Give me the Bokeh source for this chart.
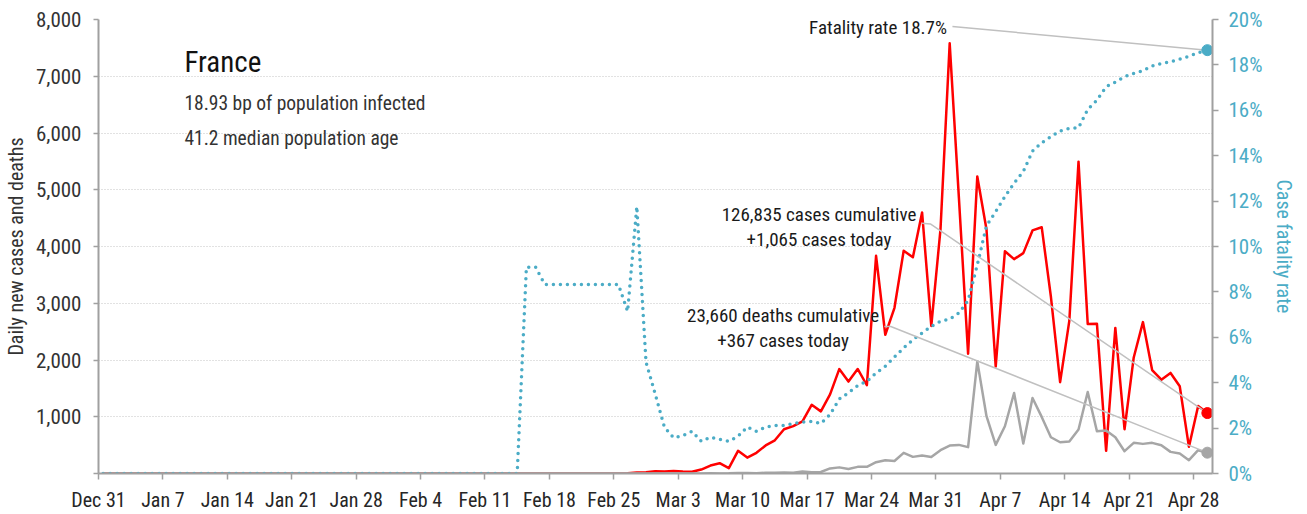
import subprocess
import pandas as pd
from bokeh.plotting import figure
from bokeh.models import Range1d, LinearAxis, FixedTicker, Label, NumeralTickFormatter, ColumnDataSource
from bokeh.embed import file_html
from bokeh.resources import INLINE

# ---------------- data ----------------
start_date = "2019-12-31"
end_date = "2020-04-29"

# daily new cases, Dec 31 .. Apr 29
cases = [0] * 56 + [
    2, 4, 18, 20, 40, 35, 45, 35, 30, 70,
    140, 182, 94, 400, 280, 365, 495, 585, 780, 835,
    920, 1210, 1095, 1395, 1840, 1620, 1842, 1555, 3835, 2445,
    2920, 3925, 3810, 4600, 2600, 4300, 7580, 4860, 2110, 5235,
    4300, 1885, 3915, 3777, 3883, 4283, 4340, 3114, 1610, 2690,
    5495, 2636, 2640, 400, 2566, 780, 2045, 2668, 1822, 1653,
    1772, 1537, 470, 1190, 1065]

# daily new deaths
deaths = [0] * 46 + [1] + [0] * 11 + [1] + [0] * 3 + [
    1, 1, 1, 2, 3, 2, 3, 9, 11, 3,
    15, 13, 18, 12, 36, 21, 27, 89, 108, 78,
    117, 117, 199, 235, 220, 364, 293, 317, 290, 411,
    493, 504, 465, 1976, 1009, 504, 833, 1419, 528, 1331,
    997, 639, 551, 563, 774, 1437, 745, 756, 639, 393,
    540, 522, 540, 498, 381, 352, 235, 411, 367]

# case fatality rate, percent
cfr = [0] * 46 + [9.09, 9.09] + [8.33] * 9 + [
    7.14, 11.76, 4.9, 3.5, 2.04, 1.57, 1.67, 1.86, 1.42, 1.60,
    1.50, 1.42, 1.64, 2.05, 1.86, 2.05, 2.11, 2.11, 2.2, 2.27,
    2.29, 2.2, 2.6, 3.28, 3.55, 3.87, 4.06, 4.43, 4.72, 5.13,
    5.53, 5.89, 6.19, 6.48, 6.70, 6.80, 7.07, 7.62, 9.19, 10.91,
    11.54, 12.2, 12.79, 13.3, 14.2, 14.57, 14.84, 15.09, 15.2, 15.23,
    16.04, 16.45, 17.04, 17.24, 17.48, 17.62, 17.74, 17.95, 18.06, 18.14,
    18.25, 18.38, 18.53, 18.65]

tick_labels = ["Dec 31", "Jan 7", "Jan 14", "Jan 21", "Jan 28", "Feb 4", "Feb 11",
               "Feb 18", "Feb 25", "Mar 3", "Mar 10", "Mar 17", "Mar 24", "Mar 31",
               "Apr 7", "Apr 14", "Apr 21", "Apr 28"]
left_ticks = [0, 1000, 2000, 3000, 4000, 5000, 6000, 7000, 8000]
right_ticks = [0, 2, 4, 6, 8, 10, 12, 14, 16, 18, 20]

country = "France"
infected_text = "18.93 bp of population infected"
age_text = "41.2 median population age"
cum_cases_text = "126,835 cases cumulative"
today_cases_text = "+1,065 cases today"
cum_deaths_text = "23,660 deaths cumulative"
today_deaths_text = "+367 cases today"
fatality_text = "Fatality rate 18.7%"
left_title = "Daily new cases and deaths"
right_title = "Case fatality rate"

# ---------------- fonts ----------------
try:
    fams = subprocess.run(["fc-list", ":", "family"], capture_output=True, text=True).stdout
except Exception:
    fams = ""
FONT = "Liberation Sans"
for f in ["Roboto Condensed", "Liberation Sans Narrow", "DejaVu Sans Condensed", "Open Sans Condensed"]:
    if f in fams:
        FONT = f
        break

# ---------------- build ----------------
dates = pd.date_range(start_date, end_date, freq="D")
t0 = pd.Timestamp(start_date)
x = [(d - t0).days + 0.5 for d in dates]
src = ColumnDataSource(dict(x=x, cases=cases, deaths=deaths, cfr=cfr))

RED = "#ff0000"
GRAY = "#a6a6a6"
CYAN = "#4bacc6"
AXIS = "#a0a0a0"
TXT = "#262626"

p = figure(width=1307, height=514, output_backend="svg", toolbar_location=None,
           x_range=Range1d(0, 121.06), y_range=Range1d(0, 8000),
           min_border_left=97, min_border_right=95, min_border_top=19, min_border_bottom=40)
p.outline_line_color = None
p.background_fill_color = "white"
p.border_fill_color = "white"
p.xgrid.visible = False
p.ygrid.grid_line_color = "#c4c4c4"
p.ygrid.grid_line_dash = "1 2"
p.ygrid.grid_line_width = 1
p.ygrid.ticker = FixedTicker(ticks=left_ticks[1:])

p.extra_y_ranges = {"cfr": Range1d(0, 20)}

# bottom axis
xt = [7 * i for i in range(len(tick_labels))]
p.xaxis.ticker = FixedTicker(ticks=xt)
p.xaxis.major_label_overrides = {t: l for t, l in zip(xt, tick_labels)}
p.xaxis.minor_tick_line_color = None
p.xaxis.axis_line_color = AXIS
p.xaxis.axis_line_width = 2
p.xaxis.major_tick_line_color = AXIS
p.xaxis.major_tick_line_width = 1.5
p.xaxis.major_tick_in = 0
p.xaxis.major_tick_out = 6
p.xaxis.major_label_standoff = 8
p.xaxis.major_label_text_font = FONT
p.xaxis.major_label_text_font_size = "20px"
p.xaxis.major_label_text_color = TXT

# left axis
p.yaxis.ticker = FixedTicker(ticks=left_ticks)
p.yaxis.formatter = NumeralTickFormatter(format="0,0")
p.yaxis.major_label_overrides = {0: ""}
p.yaxis.minor_tick_line_color = None
p.yaxis.axis_line_color = AXIS
p.yaxis.axis_line_width = 2
p.yaxis.major_tick_line_color = AXIS
p.yaxis.major_tick_line_width = 1.5
p.yaxis.major_tick_in = 0
p.yaxis.major_tick_out = 5
p.yaxis.major_label_standoff = 12
p.yaxis.major_label_text_font = FONT
p.yaxis.major_label_text_font_size = "21px"
p.yaxis.major_label_text_color = "#333333"
p.yaxis.axis_label = left_title
p.yaxis.axis_label_text_font = FONT
p.yaxis.axis_label_text_font_size = "20px"
p.yaxis.axis_label_text_font_style = "normal"
p.yaxis.axis_label_text_color = "#333333"
p.yaxis.axis_label_standoff = 5

# right axis
ra = LinearAxis(y_range_name="cfr", ticker=FixedTicker(ticks=right_ticks))
ra.major_label_overrides = {t: f"{t}%" for t in right_ticks}
ra.minor_tick_line_color = None
ra.axis_line_color = AXIS
ra.axis_line_width = 2
ra.major_tick_line_color = AXIS
ra.major_tick_line_width = 1.5
ra.major_tick_in = 0
ra.major_tick_out = 6
ra.major_label_standoff = 10
ra.major_label_text_font = FONT
ra.major_label_text_font_size = "21px"
ra.major_label_text_color = CYAN
ra.axis_label = right_title
ra.axis_label_text_font = FONT
ra.axis_label_text_font_size = "20px"
ra.axis_label_text_font_style = "normal"
ra.axis_label_text_color = CYAN
ra.axis_label_standoff = 6
p.add_layout(ra, "right")

# series
p.line("x", "cases", source=src, color=RED, line_width=2.5, line_join="round")
p.line("x", "deaths", source=src, color=GRAY, line_width=2.5, line_join="round")
p.line("x", "cfr", source=src, y_range_name="cfr", color=CYAN, line_width=3.5,
       line_dash="0 7", line_cap="round")

# leader lines (annotation layout positions, end at last data point)
lx = x[-1]
cfr_to_left = 8000 / 20.0
LEAD = "#c0c0c0"
p.line([92.8, lx], [19.69 * cfr_to_left, cfr[-1] * cfr_to_left], color=LEAD, line_width=1.5)
p.line([89.5, 90.4, lx], [4411, 4398, cases[-1]], color=LEAD, line_width=1.5)
p.line([85.4, 86.1, lx], [2591, 2591, deaths[-1]], color=LEAD, line_width=1.5)

# end markers
p.scatter([lx], [cfr[-1]], y_range_name="cfr", size=11, color=CYAN)
p.scatter([lx], [cases[-1]], size=11, color=RED)
p.scatter([lx], [deaths[-1]], size=11, color=GRAY)

def lab(xv, yv, text, size, align="left", color="#1a1a1a"):
    p.add_layout(Label(x=xv, y=yv, text=text, text_font=FONT, text_font_size=size,
                       text_align=align, text_baseline="middle", text_color=color))

lab(9.34, 7249, country, "29px", color="#111111")
lab(9.34, 6527, infected_text, "19.5px", color="#333333")
lab(9.34, 5911, age_text, "19.5px", color="#333333")
lab(92.2, 7864, fatality_text, "19px", align="right")
lab(78.3, 4557, cum_cases_text, "19px", align="center")
lab(78.3, 4117, today_cases_text, "19px", align="center")
lab(74.4, 2780, cum_deaths_text, "19px", align="center")
lab(74.4, 2340, today_deaths_text, "19px", align="center")

open("out.html", "w").write(file_html(p, INLINE))
